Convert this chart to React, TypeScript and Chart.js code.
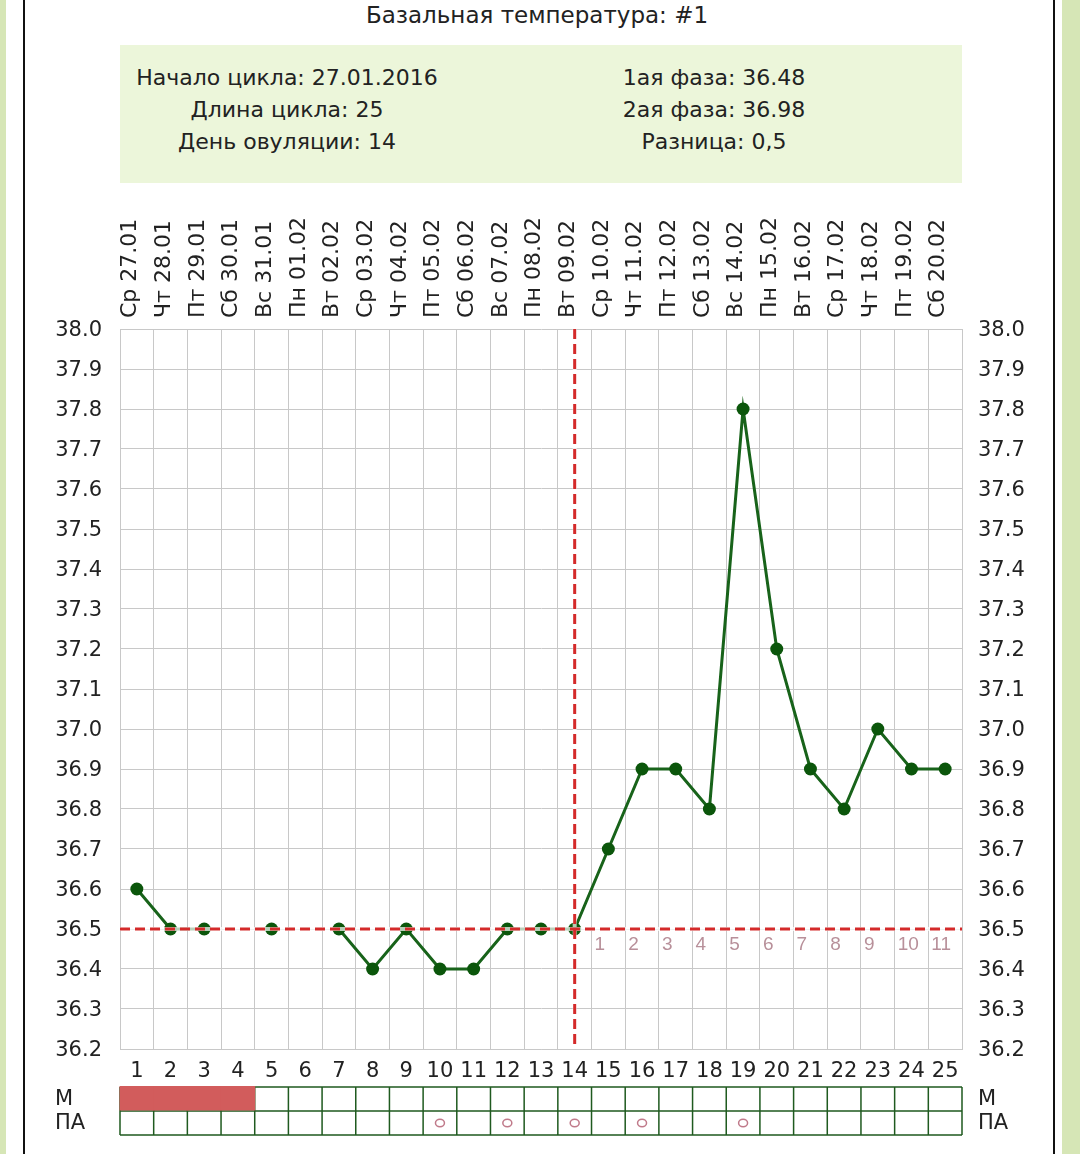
import React, { useEffect, useRef } from 'react';
import { Chart, registerables } from 'chart.js';

Chart.register(...registerables);

const dayNumbers = ['1','2','3','4','5','6','7','8','9','10','11','12','13','14','15','16','17','18','19','20','21','22','23','24','25'];
const dateLabels = ['Ср 27.01','Чт 28.01','Пт 29.01','Сб 30.01','Вс 31.01','Пн 01.02','Вт 02.02','Ср 03.02','Чт 04.02','Пт 05.02','Сб 06.02','Вс 07.02','Пн 08.02','Вт 09.02','Ср 10.02','Чт 11.02','Пт 12.02','Сб 13.02','Вс 14.02','Пн 15.02','Вт 16.02','Ср 17.02','Чт 18.02','Пт 19.02','Сб 20.02'];
const temperatures: (number | null)[] = [36.6,36.5,36.5,null,36.5,null,36.5,36.4,36.5,36.4,36.4,36.5,36.5,36.5,36.7,36.9,36.9,36.8,37.8,37.2,36.9,36.8,37.0,36.9,36.9];
const coverLine = 36.5;
const ovulationDay = 14;
const menstruationDays = [1,2,3,4];
const intercourseDays = [10,12,14,16,19];
const yMin = 36.2;
const yMax = 38.0;
const infoLeft = ['Начало цикла: 27.01.2016','Длина цикла: 25','День овуляции: 14'];
const infoRight = ['1ая фаза: 36.48','2ая фаза: 36.98','Разница: 0,5'];
const titleText = 'Базальная температура: #1';

const FONT = "'DejaVu Sans', Verdana, sans-serif";
const SMALL_FONT = "'Liberation Sans', Arial, sans-serif";

const overlayPlugin = {
  id: 'bbtOverlay',
  afterDatasetsDraw(chart: any) {
    const { ctx, chartArea, scales } = chart;
    const x = scales.x;
    const y = scales.y;
    const yc = y.getPixelForValue(coverLine);
    const xo = x.getPixelForValue(ovulationDay - 1);
    ctx.save();
    ctx.strokeStyle = 'rgba(255,255,255,0.7)';
    ctx.lineWidth = 4;
    ctx.beginPath();
    ctx.moveTo(chartArea.left, yc);
    ctx.lineTo(chartArea.right, yc);
    ctx.moveTo(xo, chartArea.top);
    ctx.lineTo(xo, chartArea.bottom);
    ctx.stroke();
    ctx.strokeStyle = '#d42a2a';
    ctx.lineWidth = 3;
    ctx.setLineDash([10, 5]);
    ctx.beginPath();
    ctx.moveTo(chartArea.left, yc);
    ctx.lineTo(chartArea.right, yc);
    ctx.stroke();
    ctx.beginPath();
    ctx.moveTo(xo, chartArea.top);
    ctx.lineTo(xo, chartArea.bottom);
    ctx.stroke();
    ctx.setLineDash([]);
    const colW = x.getPixelForValue(1) - x.getPixelForValue(0);
    ctx.fillStyle = '#b8909a';
    ctx.font = `19px ${SMALL_FONT}`;
    ctx.textAlign = 'left';
    ctx.textBaseline = 'middle';
    for (let d = ovulationDay + 1; d <= dayNumbers.length; d++) {
      const cx = x.getPixelForValue(d - 1);
      ctx.fillText(String(d - ovulationDay), cx - colW / 2 + 3, yc + 16);
    }
    ctx.restore();
  },
  afterDraw(chart: any) {
    const { ctx, chartArea, scales } = chart;
    const x = scales.x;
    const colW = x.getPixelForValue(1) - x.getPixelForValue(0);
    const top = chartArea.bottom + 38;
    const rowH = 24;
    ctx.save();
    ctx.strokeStyle = '#1f5a1f';
    ctx.lineWidth = 1.5;
    ctx.beginPath();
    for (let r = 0; r <= 2; r++) {
      ctx.moveTo(chartArea.left, top + r * rowH);
      ctx.lineTo(chartArea.right, top + r * rowH);
    }
    for (let i = 0; i <= dayNumbers.length; i++) {
      const lx = chartArea.left + i * colW;
      ctx.moveTo(lx, top);
      ctx.lineTo(lx, top + 2 * rowH);
    }
    ctx.stroke();
    ctx.fillStyle = '#d25c5c';
    menstruationDays.forEach((d) => {
      const cx = x.getPixelForValue(d - 1);
      ctx.fillRect(cx - colW / 2 - 0.5, top - 1, colW + 1, rowH + 0.5);
    });
    ctx.strokeStyle = '#c07a8a';
    ctx.lineWidth = 1.5;
    intercourseDays.forEach((d) => {
      const cx = x.getPixelForValue(d - 1);
      ctx.beginPath();
      ctx.ellipse(cx, top + rowH * 1.5, 4.5, 3.8, 0, 0, Math.PI * 2);
      ctx.stroke();
    });
    ctx.fillStyle = '#222';
    ctx.font = `21px ${FONT}`;
    ctx.textBaseline = 'middle';
    ctx.textAlign = 'left';
    ctx.fillText('М', 55, top + rowH * 0.5 + 1);
    ctx.fillText('ПА', 55, top + rowH * 1.5 + 1);
    ctx.fillText('М', 978, top + rowH * 0.5 + 1);
    ctx.fillText('ПА', 978, top + rowH * 1.5 + 1);
    ctx.restore();
  },
};

export default function App() {
  const canvasRef = useRef<HTMLCanvasElement>(null);
  useEffect(() => {
    if (!canvasRef.current) return;
    const tickFont = { family: FONT, size: 21 };
    const dateFont = { family: FONT, size: 22 };
    const chart = new Chart(canvasRef.current, {
      type: 'line',
      data: {
        labels: dayNumbers,
        datasets: [
          {
            data: temperatures,
            borderColor: '#18631a',
            borderWidth: 3,
            pointRadius: 6.5,
            pointBackgroundColor: '#0b560b',
            pointBorderColor: '#0b560b',
            pointBorderWidth: 0,
            spanGaps: false,
            tension: 0,
            xAxisID: 'x',
            yAxisID: 'y',
          },
        ],
      },
      options: {
        responsive: false,
        animation: false,
        layout: { padding: 0 },
        plugins: { legend: { display: false }, tooltip: { enabled: false }, title: { display: false } },
        scales: {
          x: {
            type: 'category',
            position: 'bottom',
            offset: true,
            grid: { offset: true, color: '#c8c8c8', lineWidth: 1, drawTicks: false },
            border: { display: true, color: '#c8c8c8' },
            ticks: { font: tickFont, color: '#222', padding: 10, autoSkip: false, maxRotation: 0, minRotation: 0 },
            afterFit: (s: any) => { s.height = 105; },
          },
          xTop: {
            type: 'category',
            position: 'top',
            labels: dateLabels,
            offset: true,
            grid: { display: false, drawTicks: false },
            border: { display: false },
            ticks: { font: dateFont, color: '#222', padding: 11, autoSkip: false, maxRotation: 90, minRotation: 90, labelOffset: 20 },
            afterFit: (s: any) => { s.height = 329; },
          },
          y: {
            type: 'linear',
            position: 'left',
            min: yMin,
            max: yMax,
            grid: { color: '#c8c8c8', lineWidth: 1, drawTicks: false },
            border: { display: true, color: '#c8c8c8' },
            ticks: { stepSize: 0.1, font: tickFont, color: '#222', padding: 18, autoSkip: false, labelOffset: 2, callback: (v: any) => Number(v).toFixed(1) },
            afterFit: (s: any) => { s.width = 120; },
          },
          yRight: {
            type: 'linear',
            position: 'right',
            min: yMin,
            max: yMax,
            grid: { display: false, drawTicks: false },
            border: { display: false },
            ticks: { stepSize: 0.1, font: tickFont, color: '#222', padding: 16, autoSkip: false, labelOffset: 2, callback: (v: any) => Number(v).toFixed(1) },
            afterFit: (s: any) => { s.width = 118; },
          },
        },
      } as any,
      plugins: [overlayPlugin],
    });
    return () => chart.destroy();
  }, []);

  const textStyle = (cx: number, cy: number, size: number): React.CSSProperties => ({
    position: 'absolute',
    left: cx - 250,
    width: 500,
    top: cy - 16,
    height: 32,
    lineHeight: '32px',
    textAlign: 'center',
    fontFamily: FONT,
    fontSize: size,
    color: '#222',
    whiteSpace: 'nowrap',
  });

  return (
    <div style={{ position: 'absolute', left: 0, top: 0, width: 1080, height: 1154, background: '#fff', overflow: 'hidden' }}>
      <div style={{ position: 'absolute', left: 0, top: 0, width: 6, height: 1154, background: '#d6e6b6' }} />
      <div style={{ position: 'absolute', left: 23, top: 0, width: 2, height: 1154, background: '#111' }} />
      <div style={{ position: 'absolute', left: 1053, top: 0, width: 2, height: 1154, background: '#111' }} />
      <div style={{ position: 'absolute', left: 1062, top: 0, width: 18, height: 1154, background: '#d6e6b6' }} />
      <div style={textStyle(537, 15, 23)}>{titleText}</div>
      <div style={{ position: 'absolute', left: 120, top: 45, width: 842, height: 138, background: '#ecf6da' }} />
      {infoLeft.map((t, i) => (
        <div key={'l' + i} style={textStyle(287, 78 + i * 32, 22)}>{t}</div>
      ))}
      {infoRight.map((t, i) => (
        <div key={'r' + i} style={textStyle(714, 78 + i * 32, 22)}>{t}</div>
      ))}
      <canvas ref={canvasRef} width={1080} height={1154} style={{ position: 'absolute', left: 0, top: 0 }} />
    </div>
  );
}
